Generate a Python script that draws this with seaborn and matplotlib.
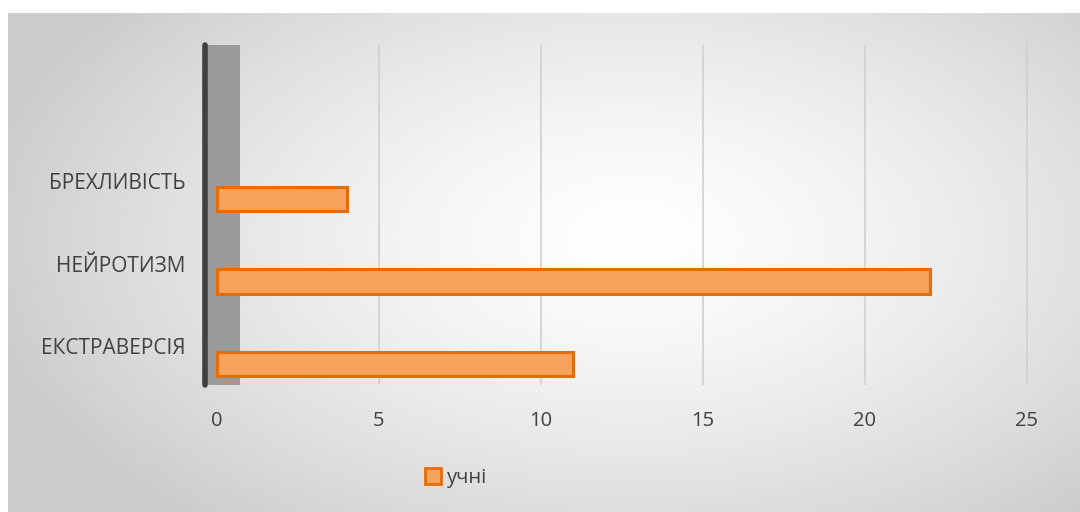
import numpy as np
import pandas as pd
import matplotlib
matplotlib.use("Agg")
import matplotlib.pyplot as plt
import matplotlib.transforms as mtransforms
import seaborn as sns
from matplotlib.patches import Patch

categories = ["БРЕХЛИВІСТЬ", "НЕЙРОТИЗМ", "ЕКСТРАВЕРСІЯ"]
values = [4, 22, 11]
series_name = "учні"
xticks = [0, 5, 10, 15, 20, 25]

df = pd.DataFrame({"cat": categories, "val": values})

sns.set_theme(style="white")
plt.rcParams["font.family"] = ["Open Sans", "DejaVu Sans"]

W, H = 1080, 512
fig = plt.figure(figsize=(W / 100, H / 100), dpi=100)
fig.patch.set_facecolor("white")

# background radial gradient panel
bg = fig.add_axes([8 / W, 0, (W - 8) / W, (H - 13) / H])
ny, nx = 200, 400
yy, xx = np.mgrid[0:ny, 0:nx]
cx, cy = 0.58 * nx, 0.45 * ny
r = np.sqrt(((xx - cx) / (0.62 * nx)) ** 2 + ((yy - cy) / (0.75 * ny)) ** 2)
r = np.clip(r, 0, 1)
g = 1.0 - 0.2 * r ** 1.4
bg.imshow(np.dstack([g, g, g]), aspect="auto", extent=[0, 1, 0, 1], origin="upper")
bg.set_axis_off()
bg.set_zorder(0)

# main axes
left_px, right_px = 205, 1045
top_px, bot_px = 45, 385
ax = fig.add_axes([left_px / W, 1 - bot_px / H, (right_px - left_px) / W, (bot_px - top_px) / H])
ax.set_zorder(1)
ax.patch.set_alpha(0)

px_per_unit = 32.4
x0_px = 217
ax.set_xlim((left_px - x0_px) / px_per_unit, (right_px - x0_px) / px_per_unit)

# back wall
ax.axvspan((left_px - x0_px) / px_per_unit, (240 - x0_px) / px_per_unit,
           ymin=0, ymax=1, color="#9b9b9b", zorder=0, lw=0)

sns.barplot(data=df, y="cat", x="val", order=categories, orient="h", ax=ax,
            color="#F5A25D", edgecolor="#E46C0A", linewidth=2.2, width=0.3,
            saturation=1, zorder=3)

spacing = 82.5
ax.set_ylim(2 + (bot_px - 364) / spacing, -(199 - top_px) / spacing)

ax.set_xticks(xticks)
ax.set_xticklabels([str(t) for t in xticks])
ax.grid(axis="x", color="#d0d0d0", lw=1.2, zorder=1)
ax.grid(axis="y", visible=False)
ax.get_xgridlines()[0].set_visible(False)
ax.tick_params(axis="x", length=0, pad=19, labelsize=14.5, labelcolor="#404040")
ax.tick_params(axis="y", length=0, pad=14, labelsize=15, labelcolor="#404040")
shift = mtransforms.ScaledTranslation(0, 0.18, fig.dpi_scale_trans)
for lab in ax.get_yticklabels():
    lab.set_transform(lab.get_transform() + shift)
ax.set_xlabel("")
ax.set_ylabel("")
for s in ["top", "right", "bottom"]:
    ax.spines[s].set_visible(False)
ax.spines["left"].set_color("#404040")
ax.spines["left"].set_linewidth(4)
ax.spines["left"].set_capstyle("round")

handle = Patch(facecolor="#F5A25D", edgecolor="#E46C0A", linewidth=2)
fig.legend([handle], [series_name], loc="center", bbox_to_anchor=(456 / W, 1 - 478 / H),
           frameon=False, fontsize=14.5, handlelength=0.8, handleheight=0.8,
           handletextpad=0.3, labelcolor="#404040")

fig.savefig("out.png", dpi=100)
